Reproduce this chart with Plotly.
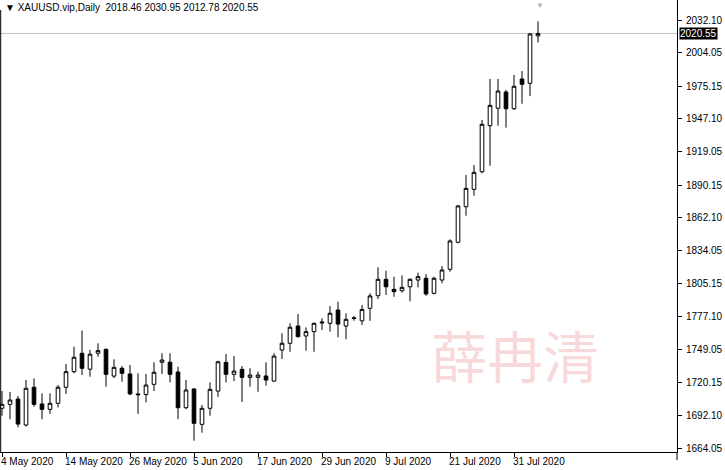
import pandas as pd
import plotly.graph_objects as go

# ---- data -------------------------------------------------------------
dates = [d.strftime("%Y-%m-%d") for d in pd.bdate_range("2020-05-04", "2020-08-05")]

opens = [1698.2, 1701.6, 1706.2, 1683.8, 1716.3, 1701.9, 1697.3, 1702.5, 1716.3, 1729.7,
         1745.5, 1731.8, 1745.5, 1748.9, 1725.9, 1732.6, 1727.7, 1710.5, 1710.0, 1718.8,
         1737.8, 1737.8, 1729.4, 1698.7, 1714.8, 1684.4, 1698.2, 1713.0, 1737.7, 1727.4,
         1731.7, 1724.8, 1724.8, 1726.0, 1721.6, 1748.3, 1754.1, 1769.0, 1760.4, 1764.1,
         1771.5, 1771.3, 1782.7, 1768.9, 1776.0, 1773.4, 1784.2, 1795.0, 1809.1, 1800.5,
         1799.3, 1802.7, 1808.5, 1810.0, 1797.1, 1808.5, 1817.7, 1841.0, 1871.5, 1886.5,
         1901.6, 1941.2, 1956.2, 1970.2, 1955.8, 1981.4, 1977.7, 2018.46]
highs = [1713.0, 1712.3, 1708.7, 1722.5, 1723.9, 1711.0, 1711.0, 1718.2, 1736.3, 1751.1,
         1765.1, 1748.4, 1754.1, 1749.6, 1740.3, 1734.5, 1735.4, 1728.3, 1727.7, 1737.8,
         1745.5, 1745.5, 1734.0, 1722.5, 1715.4, 1701.0, 1720.5, 1739.1, 1744.9, 1743.1,
         1734.5, 1732.6, 1729.7, 1737.7, 1745.5, 1762.7, 1771.3, 1779.3, 1767.8, 1771.9,
         1775.6, 1786.1, 1789.8, 1779.9, 1777.6, 1787.0, 1797.1, 1819.4, 1816.5, 1811.4,
         1812.5, 1810.0, 1814.8, 1813.6, 1811.4, 1820.5, 1843.5, 1873.0, 1898.8, 1907.4,
         1946.1, 1981.4, 1981.4, 1971.9, 1984.8, 1988.2, 2020.9, 2030.95]
lows = [1691.8, 1688.7, 1681.9, 1682.5, 1699.5, 1688.7, 1693.4, 1698.9, 1710.5, 1728.3,
        1726.8, 1725.4, 1742.6, 1716.8, 1724.2, 1721.0, 1709.6, 1693.4, 1703.3, 1713.0,
        1727.7, 1720.5, 1688.9, 1697.3, 1670.3, 1677.2, 1691.8, 1708.0, 1720.5, 1721.6,
        1703.7, 1716.8, 1712.4, 1717.6, 1721.0, 1740.6, 1746.8, 1759.0, 1747.7, 1746.8,
        1765.5, 1764.1, 1759.2, 1757.5, 1773.5, 1769.8, 1773.4, 1792.2, 1795.6, 1794.1,
        1797.7, 1790.2, 1802.2, 1795.0, 1796.2, 1805.7, 1815.6, 1840.0, 1863.8, 1881.0,
        1900.3, 1906.8, 1941.2, 1939.5, 1954.7, 1960.1, 1966.7, 2012.78]
closes = [1701.6, 1705.3, 1684.6, 1715.4, 1701.6, 1697.3, 1702.5, 1716.3, 1729.7, 1742.1,
          1732.6, 1744.7, 1747.8, 1727.4, 1733.4, 1728.3, 1710.5, 1709.9, 1718.2, 1729.2,
          1739.7, 1727.4, 1698.7, 1713.9, 1685.3, 1698.2, 1714.5, 1738.2, 1727.4, 1730.2,
          1724.8, 1726.8, 1726.8, 1722.5, 1743.1, 1754.1, 1767.9, 1759.8, 1764.1, 1771.3,
          1772.3, 1779.9, 1770.6, 1774.7, 1775.4, 1783.2, 1794.8, 1809.1, 1802.7, 1798.5,
          1802.2, 1809.1, 1811.4, 1796.5, 1810.0, 1817.1, 1842.1, 1872.2, 1887.3, 1901.1,
          1942.4, 1958.7, 1971.0, 1955.8, 1975.1, 1976.8, 2020.1, 2020.55]

tick_dates = ["2020-05-04", "2020-05-14", "2020-05-26", "2020-06-05", "2020-06-17",
              "2020-06-29", "2020-07-09", "2020-07-21", "2020-07-31"]
tick_labels = ["4 May 2020", "14 May 2020", "26 May 2020", "5 Jun 2020", "17 Jun 2020",
               "29 Jun 2020", "9 Jul 2020", "21 Jul 2020", "31 Jul 2020"]

price_ticks = [2032.10, 2004.05, 1975.15, 1947.10, 1919.05, 1890.15, 1862.10,
               1834.05, 1805.15, 1777.10, 1749.05, 1720.15, 1692.10, 1664.05]

symbol = "XAUUSD.vip,Daily"
watermark = "薛冉清"

# ---- figure -----------------------------------------------------------
idx = list(range(len(dates)))
tick_pos = [dates.index(d) for d in tick_dates]
FONT = "Liberation Sans, Arial, sans-serif"

fig = go.Figure(go.Candlestick(
    x=idx, open=opens, high=highs, low=lows, close=closes,
    increasing=dict(line=dict(color="black", width=1), fillcolor="white"),
    decreasing=dict(line=dict(color="black", width=1), fillcolor="black"),
    whiskerwidth=0, hoverinfo="skip", showlegend=False,
))

W, H = 725, 470
ml, mr, mt, mb = 0, 48, 0, 18
pw, ph = W - ml - mr, H - mt - mb
px_per_bar = 8.0
x0 = -2 / px_per_bar
x1 = x0 + pw / px_per_bar
# price scale: 2032.10 at y=20px, 1664.05 at y=448px
ppp = (2032.10 - 1664.05) / (448 - 20)
ytop = 2032.10 + 20 * ppp
ybot = ytop - ph * ppp

fig.update_layout(
    width=W, height=H, autosize=False,
    margin=dict(l=ml, r=mr, t=mt, b=mb, pad=0),
    paper_bgcolor="white", plot_bgcolor="white",
    font=dict(family=FONT, size=10, color="black"),
    boxgap=0.35,
    xaxis=dict(range=[x0, x1], rangeslider=dict(visible=False), showgrid=False,
               zeroline=False, showline=True, linecolor="black", linewidth=1,
               tickvals=tick_pos, ticktext=tick_labels, showticklabels=False,
               ticks="outside", ticklen=4, tickcolor="black", tickwidth=1),
    yaxis=dict(range=[ybot, ytop], side="right", showgrid=False, zeroline=False,
               showline=True, linecolor="black", linewidth=1,
               tickvals=price_ticks, ticktext=[f"{v:.2f}" for v in price_ticks],
               ticks="outside", ticklen=4, tickcolor="black", tickwidth=1,
               ticklabelstandoff=2, tickfont=dict(family=FONT, size=10)),
)

# date labels, left-aligned at their tick like MT4
for p, lab in zip(tick_pos, tick_labels):
    fig.add_annotation(x=p, y=0, xref="x", yref="paper", text=lab, showarrow=False,
                       xanchor="left", yanchor="top", xshift=-3, yshift=-2,
                       font=dict(family=FONT, size=10, color="black"))

# left frame line and axis extension
fig.add_shape(type="line", xref="paper", yref="paper", x0=0.7 / pw, x1=0.7 / pw,
              y0=0, y1=1 - 10 / ph, line=dict(color="black", width=1))
fig.add_shape(type="line", xref="paper", yref="paper", x0=1, x1=1,
              y0=-8 / ph, y1=0, line=dict(color="black", width=1))

# current price line and label
last = closes[-1]
fig.add_shape(type="line", xref="paper", yref="y", x0=0, x1=1, y0=last, y1=last,
              line=dict(color="#c0c0c0", width=1), layer="below")
fig.add_annotation(x=1, y=last, xref="paper", yref="y", text=f"{last:.2f}",
                   showarrow=False, xanchor="left", yanchor="middle", xshift=2,
                   bgcolor="black", borderpad=0,
                   font=dict(family=FONT, size=10, color="white"))

# header
fig.add_annotation(x=0, y=1, xref="paper", yref="paper",
                   text=f"▼ {symbol}  {opens[-1]:.2f} {highs[-1]:.2f} {lows[-1]:.2f} {closes[-1]:.2f}",
                   showarrow=False, xanchor="left", yanchor="top", xshift=3, yshift=0,
                   font=dict(family=FONT, size=10, color="black"))

# shift marker above last bar
fig.add_annotation(x=idx[-1] + 0.2, y=1, xref="x", yref="paper", text="▼", showarrow=False,
                   xanchor="center", yanchor="top", yshift=1,
                   font=dict(family=FONT, size=8, color="#b4b4b4"))

# watermark
fig.add_annotation(x=515 / pw, y=1 - 353 / ph, xref="paper", yref="paper", text=watermark,
                   showarrow=False, xanchor="center", yanchor="middle",
                   font=dict(family="Noto Sans CJK SC", size=56, color="rgba(240,170,170,0.45)"))

fig.write_html("out.html", config=dict(displayModeBar=False),
               post_script="document.body.style.margin='0';document.body.style.padding='0';"
                           "document.body.style.overflow='hidden';")
